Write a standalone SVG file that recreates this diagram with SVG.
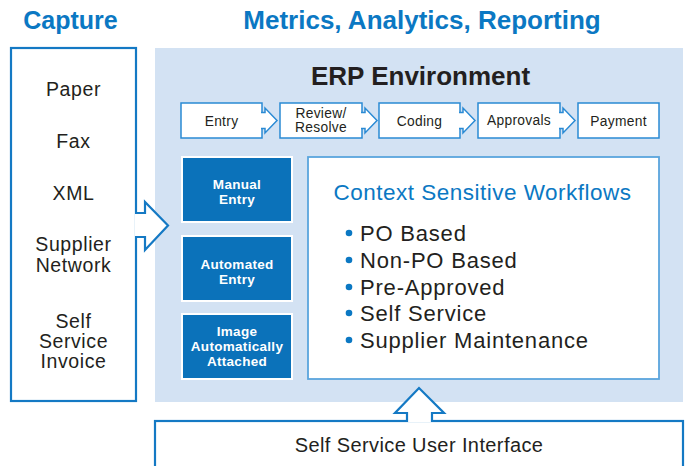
<svg xmlns="http://www.w3.org/2000/svg" width="687" height="466" viewBox="0 0 687 466">
<style>
text{font-family:"Liberation Sans",Arial,sans-serif;fill:#231f20}
.h{font-weight:bold;fill:#0b78c3}
.cap{font-size:19.5px;text-anchor:middle;letter-spacing:0.6px}
.step{fill:#fff;stroke:#2a8ad4;stroke-width:1.5}
.st{font-size:13.8px;text-anchor:middle;letter-spacing:0.3px}
.dk{fill:#0b72ba;stroke:#fff;stroke-width:2}
.dt{font-size:13.5px;font-weight:bold;fill:#fff;text-anchor:middle;letter-spacing:0.3px}
.bl{font-size:22px;letter-spacing:0.8px}
.dot{fill:#0b78c3}
.conn{fill:#fff;stroke-linejoin:miter}
</style>
<text class="h" x="70.5" y="29" font-size="25" text-anchor="middle">Capture</text>
<text class="h" x="422" y="29" font-size="26" text-anchor="middle">Metrics, Analytics, Reporting</text>

<g id="erp">
<rect x="155" y="48" width="528" height="354" fill="#d3e2f3"/>
<text x="420.5" y="85" font-size="26" font-weight="bold" text-anchor="middle">ERP Environment</text>
</g>

<g id="capture">
<rect x="11" y="48" width="125" height="353" fill="#fff" stroke="#1479c4" stroke-width="2.2"/>
<text class="cap" x="73.5" y="96">Paper</text>
<text class="cap" x="73.5" y="148">Fax</text>
<text class="cap" x="73.5" y="200">XML</text>
<text class="cap" x="73.5" y="251">Supplier</text>
<text class="cap" x="73.5" y="272">Network</text>
<text class="cap" x="73.5" y="328">Self</text>
<text class="cap" x="73.5" y="348">Service</text>
<text class="cap" x="73.5" y="368">Invoice</text>
</g>

<g id="step-entry"><rect class="step" x="181" y="103" width="81" height="35"/><text class="st" x="221.5" y="126">Entry</text></g>
<g id="step-review"><rect class="step" x="280" y="103" width="82" height="35"/><text class="st" x="321" y="118" font-size="13">Review/</text><text class="st" x="321" y="132" font-size="13">Resolve</text></g>
<g id="step-coding"><rect class="step" x="379" y="103" width="81" height="35"/><text class="st" x="419.5" y="126">Coding</text></g>
<g id="step-approvals"><rect class="step" x="478" y="103" width="82" height="35"/><text class="st" x="519" y="125">Approvals</text></g>
<g id="step-payment"><rect class="step" x="578" y="103" width="81" height="35"/><text class="st" x="618.5" y="126">Payment</text></g>

<g id="manual-entry"><rect class="dk" x="182" y="157" width="110" height="65"/><text class="dt" x="237" y="189">Manual</text><text class="dt" x="237" y="204">Entry</text></g>
<g id="automated-entry"><rect class="dk" x="182" y="236" width="110" height="65"/><text class="dt" x="237" y="269">Automated</text><text class="dt" x="237" y="284">Entry</text></g>
<g id="image-attached"><rect class="dk" x="182" y="314" width="110" height="65"/><text class="dt" x="237" y="336">Image</text><text class="dt" x="237" y="351">Automatically</text><text class="dt" x="237" y="366">Attached</text></g>

<g id="workflows">
<rect x="308" y="157" width="351" height="222" fill="#fff" stroke="#5aa5dd" stroke-width="1.8"/>
<text x="482.5" y="200" font-size="22.5" text-anchor="middle" letter-spacing="0.5" style="fill:#0b78c3">Context Sensitive Workflows</text>
<circle class="dot" cx="349" cy="233" r="3.3"/><text class="bl" x="360" y="241">PO Based</text>
<circle class="dot" cx="349" cy="260" r="3.3"/><text class="bl" x="360" y="268">Non-PO Based</text>
<circle class="dot" cx="349" cy="287" r="3.3"/><text class="bl" x="360" y="295">Pre-Approved</text>
<circle class="dot" cx="349" cy="313" r="3.3"/><text class="bl" x="360" y="321">Self Service</text>
<circle class="dot" cx="349" cy="340" r="3.3"/><text class="bl" x="360" y="348">Supplier Maintenance</text>
</g>

<g id="self-service-ui">
<rect x="155" y="421" width="528" height="70" fill="#fff" stroke="#1479c4" stroke-width="2.2"/>
<text x="419" y="452" font-size="20" text-anchor="middle" letter-spacing="0.4">Self Service User Interface</text>
</g>

<g id="connectors">
<path class="conn" stroke="#1479c4" stroke-width="2.2" d="M135,213 H145 V202 L168,225.5 L145,250 V237 H135"/>
<path class="conn" stroke="#2a8ad4" stroke-width="1.5" d="M261,112.5 H265 V108 L277,120.5 L265,133 V128.5 H261"/>
<path class="conn" stroke="#2a8ad4" stroke-width="1.5" d="M361,112.5 H365 V108 L377,120.5 L365,133 V128.5 H361"/>
<path class="conn" stroke="#2a8ad4" stroke-width="1.5" d="M459,112.5 H463 V108 L475,120.5 L463,133 V128.5 H459"/>
<path class="conn" stroke="#2a8ad4" stroke-width="1.5" d="M559,112.5 H563 V108 L575,120.5 L563,133 V128.5 H559"/>
<path class="conn" stroke="#1479c4" stroke-width="2.2" d="M407,422 V413 H395 L419,388 L444,413 H432 V422"/>
</g>
</svg>
